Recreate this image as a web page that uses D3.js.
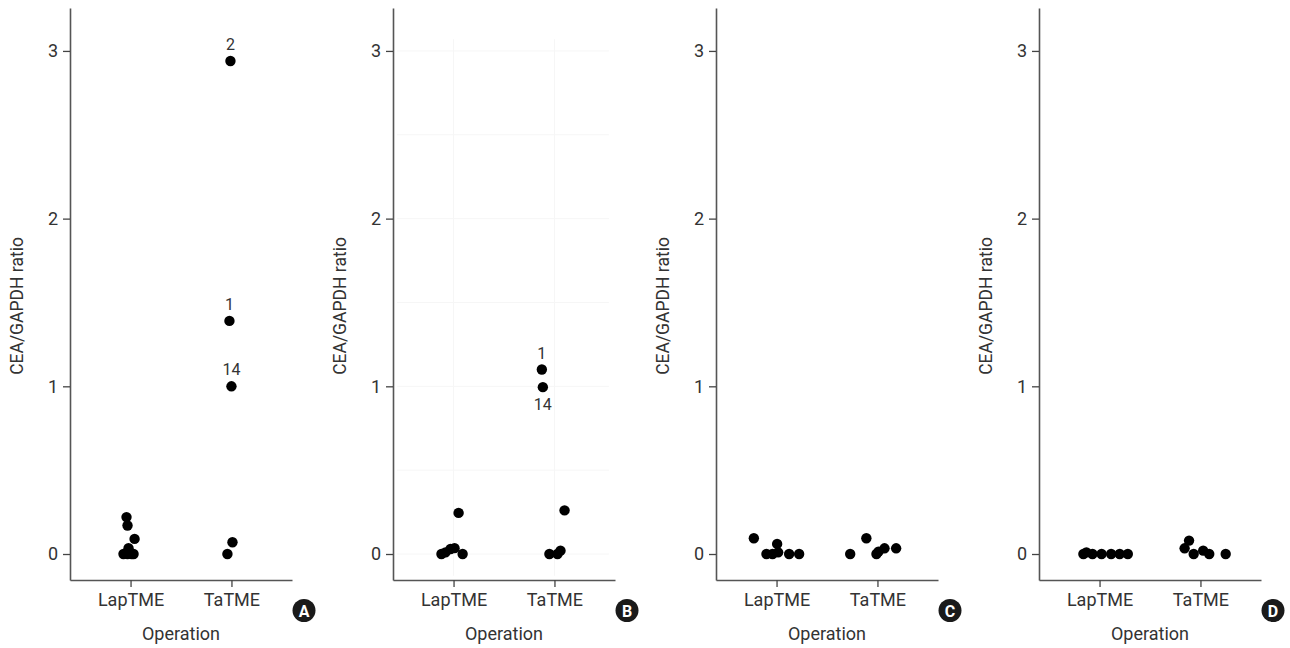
<!DOCTYPE html>
<html>
<head>
<meta charset="utf-8">
<script src="https://d3js.org/d3.v7.min.js"></script>
<style>
body { margin: 0; background: #fff; }
svg text { font-family: Roboto, "Liberation Sans", sans-serif; fill: #333; }
</style>
</head>
<body>
<svg id="chart" width="1290" height="648"></svg>
<script>
// category names and axis ticks
var groups = ['LapTME', 'TaTME'];
var yTicks = [0, 1, 2, 3];
var panelNames = ['A', 'B', 'C', 'D'];

// each point: [jittered group position (1 = LapTME, 2 = TaTME), CEA/GAPDH ratio]
var panelA = [[0.96, 0.22], [0.97, 0.17], [1.04, 0.09], [0.98, 0.035],
              [0.93, 0], [0.97, 0], [1.01, 0], [1.03, 0],
              [1.99, 2.94], [1.98, 1.39], [2.00, 1.00], [2.01, 0.07], [1.96, 0]];
var panelB = [[1.05, 0.245], [0.88, 0], [0.92, 0.01], [0.97, 0.03], [1.01, 0.035], [1.09, 0],
              [1.875, 1.10], [1.885, 0.995], [2.10, 0.26], [1.95, 0], [2.03, 0], [2.06, 0.02]];
var panelC = [[0.775, 0.094], [0.90, 0], [0.96, 0], [1.006, 0.06], [1.016, 0.01], [1.125, 0], [1.224, 0],
              [1.73, 0], [1.89, 0.094], [1.99, 0], [2.01, 0.014], [2.07, 0.034], [2.185, 0.034]];
var panelD = [[0.84, 0], [0.87, 0.01], [0.93, 0], [1.02, 0], [1.115, 0], [1.20, 0], [1.28, 0],
              [1.887, 0.08], [1.843, 0.034], [1.933, 0], [2.027, 0.02], [2.087, 0], [2.25, 0]];

// patient labels: [panel, point index, text, side]
var pointLabels = [['A', 8, '2', 'above'], ['A', 9, '1', 'above'], ['A', 10, '14', 'above'],
                   ['B', 6, '1', 'above'], ['B', 7, '14', 'below']];

var panelData = {A: panelA, B: panelB, C: panelC, D: panelD};
var gridPanel = 'B';   // only panel B shows the faint grid

var svg = d3.select('#chart');
var panelStep = 323;

var x = d3.scaleLinear().domain([0.4, 2.6]).range([70, 292]);
var y = d3.scaleLinear().domain([-0.155, 3.256]).range([580, 8]);

panelNames.forEach(function(name, i) {
  var g = svg.append('g').attr('transform', 'translate(' + (i * panelStep) + ',0)');

  // faint grid (panel B)
  if (name === gridPanel) {
    var grid = g.append('g').attr('stroke', '#f6f6f6').attr('stroke-width', 1);
    d3.range(0, 3.01, 0.5).forEach(function(v) {
      grid.append('line').attr('x1', x(0.44)).attr('x2', x(2.54))
        .attr('y1', y(v)).attr('y2', y(v));
    });
    [1, 2].forEach(function(v) {
      grid.append('line').attr('x1', x(v)).attr('x2', x(v))
        .attr('y1', y(3.07)).attr('y2', y(-0.13));
    });
  }

  // axes
  var ya = g.append('g').attr('transform', 'translate(70,0)')
    .call(d3.axisLeft(y).tickValues(yTicks).tickFormat(d3.format('d'))
      .tickSize(7).tickSizeOuter(0).tickPadding(5));
  var xa = g.append('g').attr('transform', 'translate(0,580)')
    .call(d3.axisBottom(x).tickValues([1, 2]).tickFormat(function(d) { return groups[d - 1]; })
      .tickSize(7).tickSizeOuter(0).tickPadding(6));
  [ya, xa].forEach(function(a) {
    a.select('.domain').attr('stroke', '#555').attr('stroke-width', 1.6);
    a.selectAll('.tick line').attr('stroke', '#444').attr('stroke-width', 1.3);
    a.selectAll('.tick text').attr('font-size', 18).attr('fill', '#333')
      .attr('font-family', 'Roboto, sans-serif');
  });

  // axis titles
  g.append('text')
    .attr('transform', 'translate(23,306) rotate(-90)')
    .attr('text-anchor', 'middle').attr('font-size', 17.5)
    .text('CEA/GAPDH ratio');
  g.append('text')
    .attr('x', 181).attr('y', 640)
    .attr('text-anchor', 'middle').attr('font-size', 18)
    .text('Operation');

  // points
  var pts = panelData[name];
  g.selectAll('circle.pt')
    .data(pts)
    .enter()
    .append('circle')
      .attr('class', 'pt')
      .attr('cx', function(d) { return x(d[0]); })
      .attr('cy', function(d) { return y(d[1]); })
      .attr('r', 5.2)
      .attr('fill', '#000');

  // point labels
  pointLabels.filter(function(l) { return l[0] === name; }).forEach(function(l) {
    var p = pts[l[1]];
    g.append('text')
      .attr('x', x(p[0]))
      .attr('y', y(p[1]) + (l[3] === 'above' ? -11 : 23))
      .attr('text-anchor', 'middle').attr('font-size', 16)
      .text(l[2]);
  });

  // panel badge
  g.append('circle').attr('cx', 304).attr('cy', 610.5).attr('r', 11.5).attr('fill', '#1a1a1a');
  g.append('text').attr('x', 304).attr('y', 616.5)
    .attr('text-anchor', 'middle').attr('font-size', 16).attr('font-weight', 'bold')
    .style('fill', '#fff')
    .text(name);
});
</script>
</body>
</html>
